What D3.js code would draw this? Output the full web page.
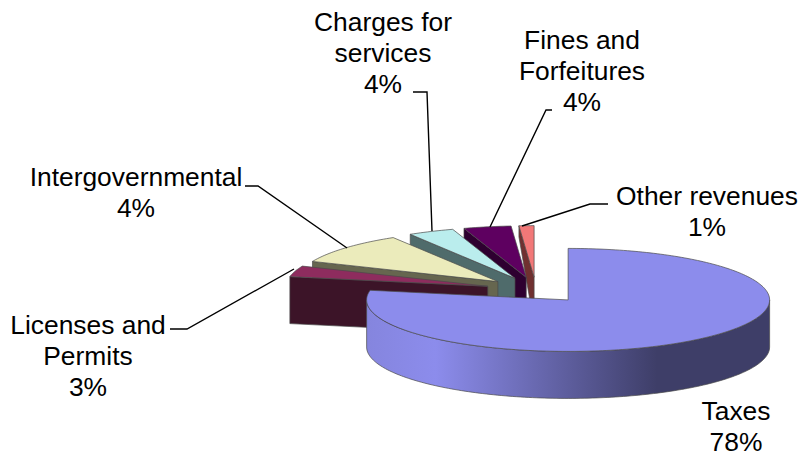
<!DOCTYPE html>
<html>
<head>
<meta charset="utf-8">
<script src="https://cdn.jsdelivr.net/npm/d3@7"></script>
<style>
  html, body { margin: 0; background: #fff; }
  text { font-family: "Liberation Sans", Arial, sans-serif; font-size: 26.4px; fill: #000; text-anchor: middle; }
</style>
</head>
<body>
<svg width="802" height="456"></svg>
<script>
// slice order runs clockwise from 12 o'clock
const names = ["Taxes", "Licenses and Permits", "Intergovernmental", "Charges for services", "Fines and Forfeitures", "Other revenues"];
// share of the circle as drawn (the printed labels do not add up to 100)
const shares = [78, 3.4, 9.9, 3.7, 3.8, 1.2];
const percentLabels = ["78%", "3%", "4%", "4%", "4%", "1%"];

const topColors = ["#8c8cec", "#8e2c5e", "#ebebbb", "#baeded", "#5e0060", "#f27878"];
const wallColors = ["#3e3e68", "#3c1428", "#66664f", "#4f6b6b", "#2e0030", "#703030"];

// label layout: centre x, first baseline, wrapped lines
const labelLayout = [
    { x: 736, y: 420, lines: ["Taxes"] },
    { x: 88, y: 334, lines: ["Licenses and", "Permits"] },
    { x: 136, y: 186, lines: ["Intergovernmental"] },
    { x: 383, y: 31, lines: ["Charges for", "services"] },
    { x: 582, y: 49, lines: ["Fines and", "Forfeitures"] },
    { x: 707, y: 205, lines: ["Other revenues"] }
];
const leaders = [
    null,
    [[170, 329], [187, 329], [294, 269]],
    [[245, 186], [258, 186], [347, 248]],
    [[413, 92], [427, 92], [432, 231]],
    [[552, 110], [546, 110], [490, 227]],
    [[608, 204], [590, 204], [522, 226]]
];

// pie projection
const cx = 536, cy = 290, rx = 201.5, ry = 51.5, depth = 47, explode = 0.25;
// wall height at the rim end of each cut face (the Other slice tapers in the original)
const rimDepth = [47, 47, 47, 47, 47, 11];

const svg = d3.select("svg");

const grad = svg.append("defs").append("linearGradient")
    .attr("id", "taxWall").attr("gradientUnits", "userSpaceOnUse")
    .attr("x1", 367).attr("x2", 770).attr("y1", 0).attr("y2", 0);
[[0, "#8585de"], [0.17, "#8c8cec"], [0.72, "#3e3e68"], [1, "#3e3e68"]].forEach(s => {
    grad.append("stop").attr("offset", s[0]).attr("stop-color", s[1]);
});

const arcs = d3.pie().sort(null).value(d => d)(shares);

function px(a, r) { return Math.sin(a) * r * rx; }
function py(a, r) { return -Math.cos(a) * r * ry; }

function apex(d) {
    const mid = (d.startAngle + d.endAngle) / 2;
    return [cx + px(mid, explode), cy + py(mid, explode)];
}

function rimPoints(d, a0, a1, dy) {
    const c = apex(d), pts = [], n = Math.max(2, Math.ceil(Math.abs(a1 - a0) / 0.02));
    for (let i = 0; i <= n; i++) {
        const a = a0 + (a1 - a0) * i / n;
        pts.push([c[0] + px(a, 1), c[1] + py(a, 1) + dy]);
    }
    return pts;
}

const line = d3.line();

function face(pts, fill) {
    svg.append("path")
        .attr("d", line(pts) + "Z")
        .attr("fill", fill)
        .attr("stroke", "#4a4a4a")
        .attr("stroke-width", 0.7)
        .attr("stroke-linejoin", "round");
}

// small slices back to front: Other first, Licenses last, Taxes on top
[5, 4, 3, 2, 1].forEach(i => {
    const d = arcs[i], c = apex(d);
    const e = rimPoints(d, d.startAngle, d.startAngle, 0)[0];
    face([c, e, [e[0], e[1] + rimDepth[i]], [c[0], c[1] + depth]], wallColors[i]);
    face([c].concat(rimPoints(d, d.startAngle, d.endAngle, 0)), topColors[i]);
});

// Taxes: outer wall only where the rim faces the viewer
const t = arcs[0], tc = apex(t);
const upper = rimPoints(t, Math.PI / 2, Math.PI * 1.5, 0);
const lower = rimPoints(t, Math.PI * 1.5, Math.PI / 2, depth);
face(upper.concat(lower), "url(#taxWall)");
face([tc].concat(rimPoints(t, t.startAngle, t.endAngle, 0)), topColors[0]);

// leader lines
leaders.forEach(l => {
    if (!l) return;
    svg.append("path").attr("d", line(l)).attr("fill", "none")
        .attr("stroke", "#000").attr("stroke-width", 1.4);
});

// labels
labelLayout.forEach((l, i) => {
    const txt = svg.append("text").attr("x", l.x).attr("y", l.y);
    l.lines.concat(percentLabels[i]).forEach((s, j) => {
        txt.append("tspan").attr("x", l.x).attr("dy", j ? 31 : 0).text(s);
    });
});
</script>
</body>
</html>
